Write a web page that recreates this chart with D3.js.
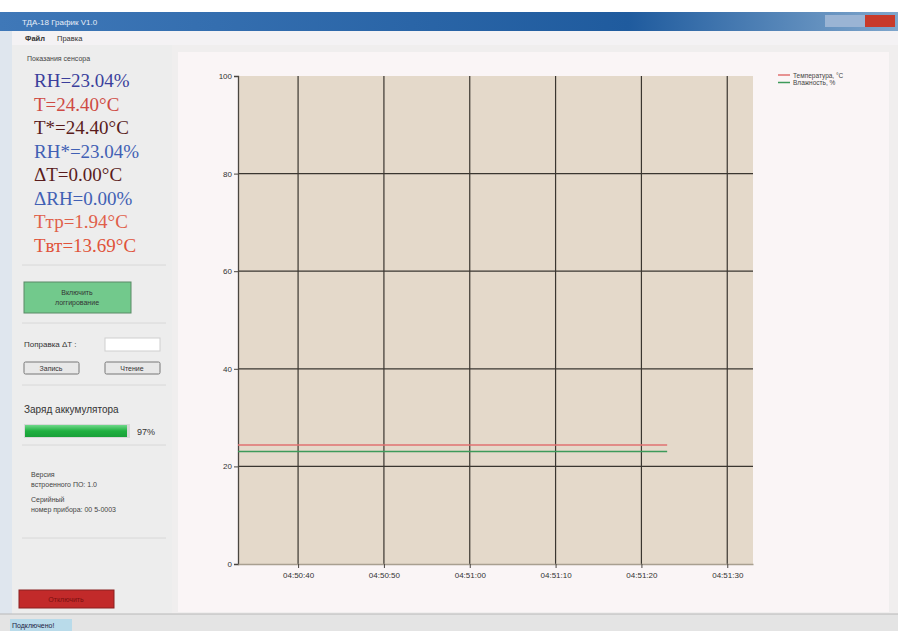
<!DOCTYPE html>
<html>
<head>
<meta charset="utf-8">
<script src="https://cdn.jsdelivr.net/npm/d3@7"></script>
<style>
  body { margin: 0; background: #f0f0f0; font-family: "Liberation Sans", Arial, sans-serif; }
  svg { display: block; }
  .sensor { font-family: "Liberation Serif", "DejaVu Serif", serif; }
</style>
</head>
<body>
<div id="app"></div>
<script>
// data
var sampleTimes = ["04:50:33", "04:50:43", "04:50:53", "04:51:03", "04:51:13", "04:51:23"];
var temperature = [24.40, 24.40, 24.40, 24.40, 24.40, 24.40];
var humidity = [23.04, 23.04, 23.04, 23.04, 23.04, 23.04];
var xTicks = ["04:50:40", "04:50:50", "04:51:00", "04:51:10", "04:51:20", "04:51:30"];
var yTicks = [0, 20, 40, 60, 80, 100];
var seriesNames = ["Температура, °C", "Влажность, %"];
var seriesColors = ["#e07070", "#3d9a5a"];

var sensorLines = [
  {text: "RH=23.04%", color: "#3b3f9c"},
  {text: "T=24.40°C", color: "#cf4a43"},
  {text: "T*=24.40°C", color: "#5a1c1c"},
  {text: "RH*=23.04%", color: "#4160b4"},
  {text: "ΔT=0.00°C", color: "#5a1c1c"},
  {text: "ΔRH=0.00%", color: "#4160b4"},
  {text: "Tтр=1.94°C", color: "#e0604a"},
  {text: "Tвт=13.69°C", color: "#e0533a"}
];

var W = 898, H = 631;
var svg = d3.select("#app").append("svg")
  .attr("width", W).attr("height", H);

// window chrome
var grad = svg.append("defs").append("linearGradient").attr("id", "title");
grad.append("stop").attr("offset", "0%").attr("stop-color", "#3f78b8");
grad.append("stop").attr("offset", "70%").attr("stop-color", "#1f5b9e");
grad.append("stop").attr("offset", "100%").attr("stop-color", "#7fa6cc");
svg.append("rect").attr("x", 0).attr("y", 0).attr("width", W).attr("height", H).attr("fill", "#f0eeee");
svg.append("rect").attr("x", 0).attr("y", 0).attr("width", W).attr("height", 12).attr("fill", "#ffffff");
svg.append("rect").attr("x", 0).attr("y", 12).attr("width", W).attr("height", 19).attr("fill", "url(#title)");
svg.append("text").attr("x", 22).attr("y", 25).attr("font-size", 8).attr("fill", "#e8eef8")
  .text("ТДА-18 График V1.0");
svg.append("rect").attr("x", 825).attr("y", 15).attr("width", 40).attr("height", 12).attr("fill", "#9ab4d4");
svg.append("rect").attr("x", 865).attr("y", 15).attr("width", 30).attr("height", 12).attr("fill", "#c83a2a");
svg.append("rect").attr("x", 0).attr("y", 31).attr("width", W).attr("height", 14).attr("fill", "#f4f2f4");
svg.append("text").attr("x", 25).attr("y", 41).attr("font-size", 7.5).attr("font-weight", "bold").attr("fill", "#333").text("Файл");
svg.append("text").attr("x", 57).attr("y", 41).attr("font-size", 7.5).attr("fill", "#333").text("Правка");
svg.append("rect").attr("x", 0).attr("y", 31).attr("width", 12).attr("height", 600).attr("fill", "#dfe6ee");

// left panel
svg.append("rect").attr("x", 12).attr("y", 45).attr("width", 160).attr("height", 570).attr("fill", "#ededed");
svg.append("text").attr("x", 27).attr("y", 61).attr("font-size", 7).attr("fill", "#444").text("Показания сенсора");
svg.selectAll("text.sensor").data(sensorLines).enter().append("text")
  .attr("class", "sensor")
  .attr("x", 34)
  .attr("y", function(d, i) { return 87 + i * 23.5; })
  .style("font-family", "'Liberation Serif', 'DejaVu Serif', serif")
  .attr("font-size", 19)
  .attr("fill", function(d) { return d.color; })
  .text(function(d) { return d.text; });

[265, 323, 385, 445, 538].forEach(function(y) {
  svg.append("line").attr("x1", 22).attr("x2", 166).attr("y1", y).attr("y2", y)
    .attr("stroke", "#d8d8d8");
});

// logging button
svg.append("rect").attr("x", 24).attr("y", 282).attr("width", 107).attr("height", 31)
  .attr("fill", "#72c98c").attr("stroke", "#5a8a66");
svg.append("text").attr("x", 77).attr("y", 295).attr("text-anchor", "middle").attr("font-size", 7).attr("fill", "#333").text("Включить");
svg.append("text").attr("x", 77).attr("y", 305).attr("text-anchor", "middle").attr("font-size", 7).attr("fill", "#333").text("логгирование");

svg.append("text").attr("x", 24).attr("y", 347).attr("font-size", 8).attr("fill", "#333").text("Поправка ΔT :");
svg.append("rect").attr("x", 105).attr("y", 338).attr("width", 55).attr("height", 13).attr("fill", "#fff").attr("stroke", "#cfcfcf");
[{x: 24, t: "Запись"}, {x: 105, t: "Чтение"}].forEach(function(b) {
  svg.append("rect").attr("x", b.x).attr("y", 362).attr("width", 55).attr("height", 12)
    .attr("fill", "#e8e8e8").attr("stroke", "#777").attr("rx", 1.5);
  svg.append("text").attr("x", b.x + 27).attr("y", 371).attr("text-anchor", "middle")
    .attr("font-size", 7).attr("fill", "#333").text(b.t);
});

svg.append("text").attr("x", 24).attr("y", 413).attr("font-size", 10).attr("fill", "#333").text("Заряд аккумулятора");
var pg = svg.select("defs").append("linearGradient").attr("id", "prog").attr("x1", 0).attr("x2", 0).attr("y1", 0).attr("y2", 1);
pg.append("stop").attr("offset", "0%").attr("stop-color", "#6fd88a");
pg.append("stop").attr("offset", "50%").attr("stop-color", "#20b040");
pg.append("stop").attr("offset", "100%").attr("stop-color", "#18a038");
svg.append("rect").attr("x", 24).attr("y", 424).attr("width", 106).attr("height", 14).attr("fill", "#d8d8d8");
svg.append("rect").attr("x", 25).attr("y", 425).attr("width", 102).attr("height", 12).attr("fill", "url(#prog)");
svg.append("text").attr("x", 137).attr("y", 435).attr("font-size", 9).attr("fill", "#333").text("97%");

["Версия", "встроенного ПО: 1.0"].forEach(function(t, i) {
  svg.append("text").attr("x", 31).attr("y", 477 + i * 10).attr("font-size", 7).attr("fill", "#444").text(t);
});
["Серийный", "номер прибора: 00 5-0003"].forEach(function(t, i) {
  svg.append("text").attr("x", 31).attr("y", 502 + i * 10).attr("font-size", 7).attr("fill", "#444").text(t);
});

svg.append("rect").attr("x", 19).attr("y", 590).attr("width", 95).attr("height", 18)
  .attr("fill", "#c22a2a").attr("stroke", "#8a2020");
svg.append("text").attr("x", 66).attr("y", 602).attr("text-anchor", "middle").attr("font-size", 7).attr("fill", "#7a1010").text("Отключить");

// status bar
svg.append("rect").attr("x", 0).attr("y", 614).attr("width", W).attr("height", 17).attr("fill", "#e4e4e4");
svg.append("line").attr("x1", 0).attr("x2", W).attr("y1", 614).attr("y2", 614).attr("stroke", "#b8b8b8");
svg.append("rect").attr("x", 10).attr("y", 619).attr("width", 62).attr("height", 12).attr("fill", "#b9dbea");
svg.append("text").attr("x", 12).attr("y", 628).attr("font-size", 7).attr("fill", "#224").text("Подключено!");

// chart panel
svg.append("rect").attr("x", 178).attr("y", 52).attr("width", 711).attr("height", 560).attr("fill", "#faf5f6");

var margin = {top: 76, left: 238, right: 753, bottom: 564};
var parse = d3.timeParse("%H:%M:%S");
var x = d3.scaleTime()
  .domain([parse("04:50:33"), parse("04:51:33")])
  .range([margin.left, margin.right]);
var y = d3.scaleLinear()
  .domain([0, 100])
  .range([margin.bottom, margin.top]);

svg.append("rect").attr("x", margin.left).attr("y", margin.top)
  .attr("width", margin.right - margin.left).attr("height", margin.bottom - margin.top)
  .attr("fill", "#e4d9ca");

var plot = svg.append("g");

// grid lines
plot.selectAll("line.vgrid").data(xTicks).enter().append("line")
  .attr("class", "vgrid")
  .attr("x1", function(d) { return x(parse(d)); })
  .attr("x2", function(d) { return x(parse(d)); })
  .attr("y1", margin.top).attr("y2", margin.bottom)
  .attr("stroke", "#3a3630").attr("stroke-width", 1.2);
plot.selectAll("line.hgrid").data(yTicks.slice(1, 5)).enter().append("line")
  .attr("class", "hgrid")
  .attr("x1", margin.left).attr("x2", margin.right)
  .attr("y1", function(d) { return y(d); })
  .attr("y2", function(d) { return y(d); })
  .attr("stroke", "#3a3630").attr("stroke-width", 1.2);

// axes
var yAxis = svg.append("g")
  .attr("transform", "translate(" + margin.left + ",0)")
  .call(d3.axisLeft(y).tickValues(yTicks).tickSize(4).tickPadding(2));
var xAxis = svg.append("g")
  .attr("transform", "translate(0," + margin.bottom + ")")
  .call(d3.axisBottom(x).tickValues(xTicks.map(parse)).tickSize(4).tickPadding(4)
    .tickFormat(d3.timeFormat("%H:%M:%S")).tickSizeOuter(0));
[xAxis, yAxis].forEach(function(a) {
  a.select(".domain").attr("stroke", "#4a4540").attr("stroke-width", 1.3);
  a.selectAll(".tick line").attr("stroke", "#4a4540");
  a.selectAll("text").attr("font-size", 8).attr("fill", "#333")
    .attr("font-family", "Liberation Sans Narrow, Liberation Sans, sans-serif");
});
xAxis.select(".domain").attr("stroke", "#a89f90");

// series
var line = d3.line()
  .x(function(d) { return x(parse(d.t)); })
  .y(function(d) { return y(d.v); });
[temperature, humidity].forEach(function(vals, k) {
  var pts = sampleTimes.map(function(t, i) { return {t: t, v: vals[i]}; });
  svg.append("path").datum(pts)
    .attr("d", line)
    .attr("fill", "none")
    .attr("stroke", seriesColors[k])
    .attr("stroke-width", 1.6);
});

// legend
var legend = svg.append("g").attr("transform", "translate(778,73)");
seriesNames.forEach(function(name, i) {
  legend.append("line").attr("x1", 0).attr("x2", 12)
    .attr("y1", i * 7.5 + 2).attr("y2", i * 7.5 + 2)
    .attr("stroke", seriesColors[i]).attr("stroke-width", 1.5);
  legend.append("text").attr("x", 15).attr("y", i * 7.5 + 4.5)
    .attr("font-size", 6.5).attr("fill", "#444").text(name);
});
</script>
</body>
</html>
